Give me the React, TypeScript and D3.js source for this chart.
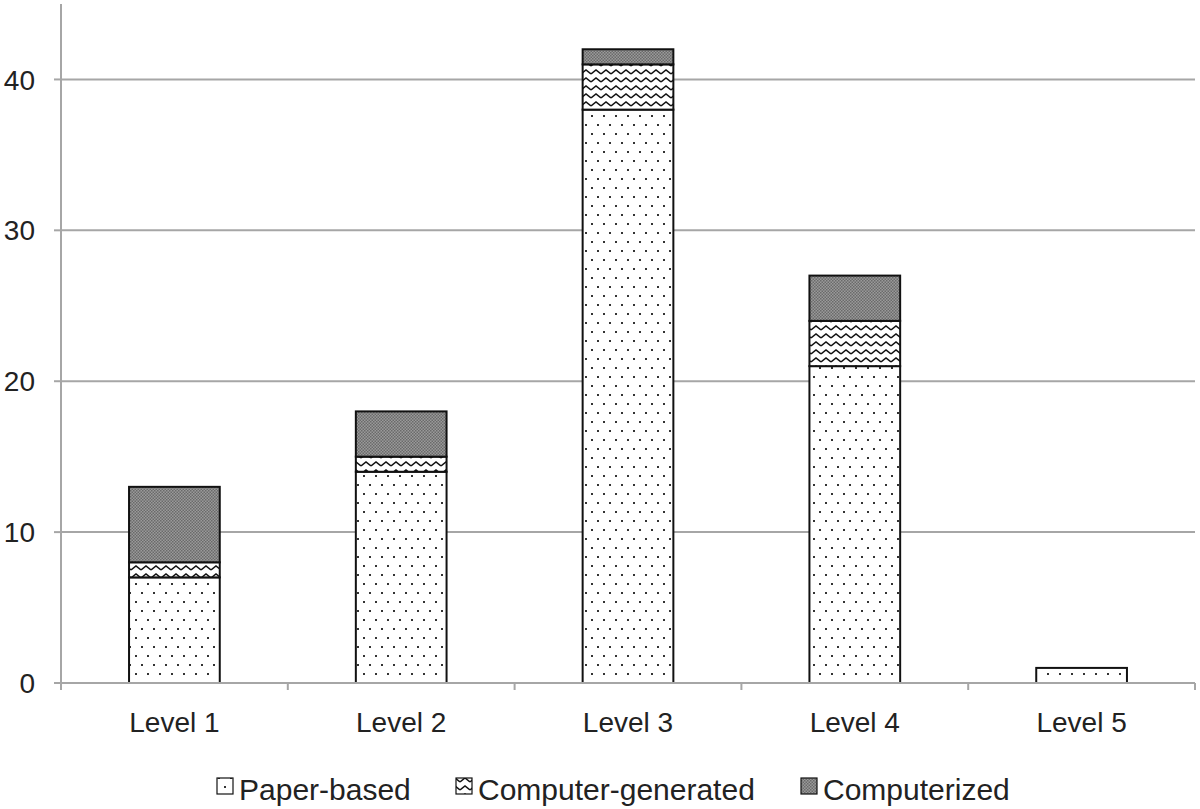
import { useEffect, useRef } from "react"
import * as d3 from "d3"

const categories = ["Level 1", "Level 2", "Level 3", "Level 4", "Level 5"]
const seriesNames = ["Paper-based", "Computer-generated", "Computerized"]
const paperBased = [7, 14, 38, 21, 1]
const computerGenerated = [1, 1, 3, 3, 0]
const computerized = [5, 3, 1, 3, 0]
const yTicks = [0, 10, 20, 30, 40]

export default function App() {
  const svgRef = useRef<SVGSVGElement>(null)

  useEffect(() => {
    if (!svgRef.current) return
    d3.select(svgRef.current).selectAll("*").remove()

    const width = 1200
    const height = 809
    const margin = { top: 4, right: 5, bottom: 126, left: 61 }
    const chartWidth = width - margin.left - margin.right
    const chartHeight = height - margin.top - margin.bottom
    const font = "Arial, 'Liberation Sans', sans-serif"

    const svg = d3.select(svgRef.current).attr("width", width).attr("height", height)

    // Patterns
    const defs = svg.append("defs")
    const dots = defs
      .append("pattern")
      .attr("id", "dots")
      .attr("patternUnits", "userSpaceOnUse")
      .attr("width", 12)
      .attr("height", 18)
    dots.append("rect").attr("width", 12).attr("height", 18).attr("fill", "white")
    dots.append("rect").attr("x", 2).attr("y", 3).attr("width", 2).attr("height", 2).attr("fill", "#333")
    dots.append("rect").attr("x", 8).attr("y", 12).attr("width", 2).attr("height", 2).attr("fill", "#333")

    const zig = defs
      .append("pattern")
      .attr("id", "zig")
      .attr("patternUnits", "userSpaceOnUse")
      .attr("width", 10)
      .attr("height", 8)
    zig.append("rect").attr("width", 10).attr("height", 8).attr("fill", "white")
    zig
      .append("path")
      .attr("d", "M0,6 L5,2 L10,6")
      .attr("fill", "none")
      .attr("stroke", "#111")
      .attr("stroke-width", 1.6)

    const grey = defs
      .append("pattern")
      .attr("id", "grey")
      .attr("patternUnits", "userSpaceOnUse")
      .attr("width", 3)
      .attr("height", 3)
    grey.append("rect").attr("width", 3).attr("height", 3).attr("fill", "#9a9a9a")
    grey.append("rect").attr("width", 1.5).attr("height", 1.5).attr("fill", "#6a6a6a")
    grey.append("rect").attr("x", 1.5).attr("y", 1.5).attr("width", 1.5).attr("height", 1.5).attr("fill", "#6a6a6a")

    const fills = ["url(#dots)", "url(#zig)", "url(#grey)"]

    const g = svg.append("g").attr("transform", `translate(${margin.left},${margin.top})`)

    const x = d3.scaleBand().domain(categories).range([0, chartWidth]).padding(0)
    const y = d3.scaleLinear().domain([0, 45]).range([chartHeight, 0])

    // Gridlines
    g.selectAll(".grid")
      .data(yTicks.slice(1))
      .enter()
      .append("line")
      .attr("x1", 0)
      .attr("x2", chartWidth)
      .attr("y1", (d) => y(d))
      .attr("y2", (d) => y(d))
      .attr("stroke", "#a6a6a6")
      .attr("stroke-width", 2)

    // Stacked bars
    const rows = categories.map((c, i) => ({
      cat: c,
      "Paper-based": paperBased[i],
      "Computer-generated": computerGenerated[i],
      Computerized: computerized[i],
    }))
    const stack = d3.stack<any>().keys(seriesNames)(rows)
    const barW = x.bandwidth() * 0.4

    stack.forEach((layer, li) => {
      g.selectAll(`.bar${li}`)
        .data(layer.filter((d) => d[1] - d[0] > 0))
        .enter()
        .append("rect")
        .attr("x", (d) => (x(d.data.cat) || 0) + (x.bandwidth() - barW) / 2)
        .attr("width", barW)
        .attr("y", (d) => y(d[1]))
        .attr("height", (d) => y(d[0]) - y(d[1]))
        .attr("fill", fills[li])
        .attr("stroke", "#111")
        .attr("stroke-width", 2)
    })

    // Axes
    g.append("line")
      .attr("x1", 0)
      .attr("x2", 0)
      .attr("y1", 0)
      .attr("y2", chartHeight)
      .attr("stroke", "#a6a6a6")
      .attr("stroke-width", 2)
    g.append("line")
      .attr("x1", 0)
      .attr("x2", chartWidth)
      .attr("y1", chartHeight)
      .attr("y2", chartHeight)
      .attr("stroke", "#a6a6a6")
      .attr("stroke-width", 2)

    g.selectAll(".ytick")
      .data(yTicks)
      .enter()
      .append("line")
      .attr("x1", -7)
      .attr("x2", 0)
      .attr("y1", (d) => y(d))
      .attr("y2", (d) => y(d))
      .attr("stroke", "#a6a6a6")
      .attr("stroke-width", 2)

    g.selectAll(".ylabel")
      .data(yTicks)
      .enter()
      .append("text")
      .attr("x", -26)
      .attr("y", (d) => y(d))
      .attr("dy", "0.36em")
      .attr("text-anchor", "end")
      .style("font-family", font)
      .style("font-size", "28px")
      .style("fill", "#222")
      .text((d) => d)

    const bounds = categories.map((c) => x(c) || 0).concat([chartWidth])
    g.selectAll(".xtick")
      .data(bounds)
      .enter()
      .append("line")
      .attr("x1", (d) => d)
      .attr("x2", (d) => d)
      .attr("y1", chartHeight)
      .attr("y2", chartHeight + 7)
      .attr("stroke", "#a6a6a6")
      .attr("stroke-width", 2)

    g.selectAll(".xlabel")
      .data(categories)
      .enter()
      .append("text")
      .attr("x", (d) => (x(d) || 0) + x.bandwidth() / 2)
      .attr("y", chartHeight + 49)
      .attr("text-anchor", "middle")
      .style("font-family", font)
      .style("font-size", "28px")
      .style("fill", "#222")
      .text((d) => d)

    // Legend
    const legendX = [217, 456, 801]
    const legend = svg.append("g")
    seriesNames.forEach((name, i) => {
      legend
        .append("rect")
        .attr("x", legendX[i])
        .attr("y", 778)
        .attr("width", 16)
        .attr("height", 16)
        .attr("fill", fills[i])
        .attr("stroke", "#111")
        .attr("stroke-width", 1.2)
      legend
        .append("text")
        .attr("x", legendX[i] + 22)
        .attr("y", 800)
        .style("font-family", font)
        .style("font-size", "30px")
        .style("fill", "#222")
        .text(name)
    })
  }, [])

  return <svg ref={svgRef} style={{ position: "absolute", left: 0, top: 0 }}></svg>
}
